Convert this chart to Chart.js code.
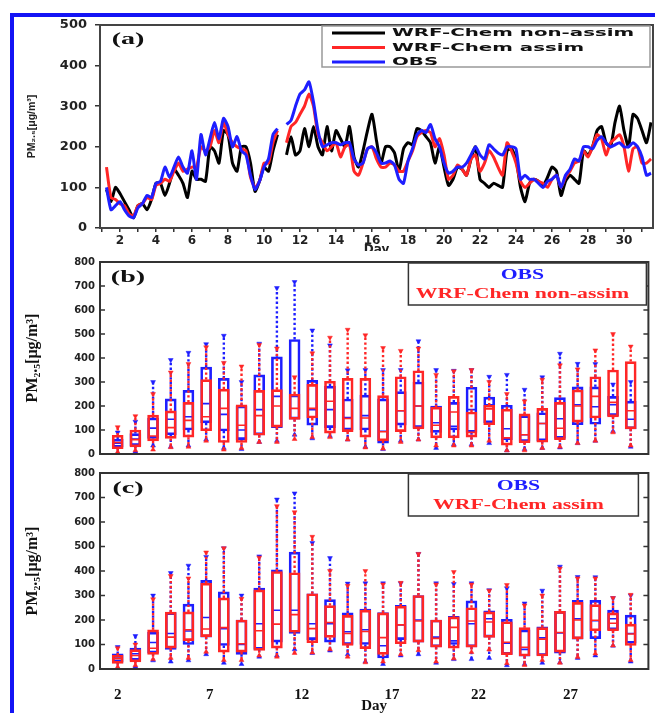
<!DOCTYPE html>
<html><head><meta charset="utf-8">
<script src="https://cdn.jsdelivr.net/npm/chart.js@4.4.1/dist/chart.umd.min.js"></script>
<style>
html,body{margin:0;padding:0;background:#fff;}
body{width:655px;height:713px;position:relative;overflow:hidden;}
.pane{position:absolute;left:0;width:655px;}
#frame{position:absolute;left:10px;top:13px;width:660px;height:720px;border-top:4px solid #1414f5;border-left:4px solid #1414f5;box-sizing:border-box;pointer-events:none;z-index:5;}
</style></head><body>
<div class="pane" style="top:0;height:251px"><canvas id="ca"></canvas></div>
<div class="pane" style="top:251px;height:214px"><canvas id="cb"></canvas></div>
<div class="pane" style="top:462px;height:251px"><canvas id="cc"></canvas></div>
<div id="frame"></div>
<script>
// ---------- Panel (a): 6-hourly series, day 1.25 ... 31.5 ----------
const obsA = [100,45,55,65, 45,30,25,50, 60,80,75,110, 115,150,125,150, 175,150,135,190,
  120,230,180,220, 260,220,270,250, 200,225,190,180, 130,95,115,150, 170,230,245,null,
  255,265,300,330, 340,360,310,240, 200,205,210,210, 205,210,210,170, 155,160,195,200,
  185,160,160,165, 155,120,110,165, 195,230,240,235, 255,220,200,160, 135,140,150,150,
  160,180,200,180, 170,205,195,185, 180,200,200,195, 120,130,120,120, 110,100,115,120,
  130,100,130,145, 170,165,200,200, 195,215,225,210, 200,205,210,200, 200,210,200,175, 130,135];
const assimA = [150,75,70,60, 55,35,30,55, 60,75,70,105, 110,120,115,140, 160,140,145,150,
  150,200,190,200, 240,210,260,230, 210,200,195,190, 125,100,115,160, 160,210,240,null,
  210,250,260,280, 300,330,300,230, 210,190,200,210, 175,200,205,140, 130,160,195,200,
  170,150,150,160, 155,140,140,165, 190,225,235,240, 235,200,220,180, 120,130,155,145,
  130,170,180,140, 160,190,175,150, 130,210,190,160, 115,100,110,120, 115,110,100,120,
  130,100,125,140, 160,165,190,175, 200,230,220,180, 210,220,230,200, 140,195,200,160, 160,170];
const nonA = [95,65,100,85, 65,45,25,55, 60,45,70,110, 110,80,110,145, 130,110,75,140,
  120,120,115,200, 190,160,240,230, 160,140,200,200, 160,90,115,150, 140,190,230,null,
  180,225,180,190, 245,200,250,200, 180,250,190,240, 220,200,250,175, 150,190,240,280,
  215,160,200,200, 185,140,195,210, 205,245,240,225, 210,160,200,150, 105,120,150,145,
  130,170,200,120, 110,100,110,105, 100,190,195,170, 100,65,110,120, 115,105,125,150,
  140,80,115,130, 120,110,190,180, 200,240,250,210, 200,260,300,240, 200,280,270,240, 210,260];
const timeDays = Array.from({length: obsA.length}, (_, i) => 1.25 + i * 0.25);
const tickDaysA = Array.from({length: 31}, (_, i) => i + 1);
const seriesNamesA = ['OBS', 'WRF-Chem assim', 'WRF-Chem non-assim'];

// ---------- Panels (b),(c): daily box statistics (min, q1, median, q3, max) ----------
const boxDays = Array.from({length: 30}, (_, i) => i + 1);
const obsMin = [5,10,35,30,35,60,25,20,50,55,80,65,75,60,30,20,55,60,25,40,40,45,15,20,25,27,45,55,95,30];
const obsQ1  = [28,35,65,80,100,130,96,60,80,110,145,120,110,100,100,45,120,110,90,100,90,130,60,52,55,65,122,124,160,105];
const obsMed = [45,62,108,145,155,210,165,100,185,240,240,185,185,152,160,95,180,200,130,115,185,205,105,80,127,147,205,197,205,145];
const obsQ3  = [62,85,150,230,265,362,315,200,330,405,477,307,283,229,245,230,260,300,200,215,278,237,203,160,172,235,280,280,240,220];
const obsMax = [90,135,300,392,422,458,493,300,460,692,717,515,453,349,350,350,350,470,350,347,350,322,330,268,320,418,376,375,290,300];

const nonMin = [8,15,18,28,30,55,18,25,50,50,62,70,70,60,27,22,50,60,35,35,35,55,15,15,25,30,45,55,90,35];
const nonQ1  = [22,30,55,65,70,97,48,48,78,112,144,150,87,93,70,55,93,105,67,67,70,122,37,47,49,60,133,150,155,105];
const nonMed = [48,60,75,110,140,155,190,120,160,200,190,190,220,148,150,93,180,200,120,175,90,188,67,80,127,107,200,240,215,180];
const nonQ3  = [78,100,162,180,215,310,270,205,265,268,250,290,303,315,315,243,322,347,195,240,175,203,187,167,190,215,267,322,350,385];
const nonMax = [112,158,250,340,375,445,380,365,455,440,320,420,485,518,495,442,430,440,330,345,350,300,250,220,310,370,353,432,500,448];

const asmMin = [8,15,40,45,45,70,36,36,55,50,65,67,80,50,27,30,60,76,30,43,69,79,23,16,36,25,49,63,96,36];
const asmQ1  = [23,29,60,85,116,132,69,69,76,85,150,107,129,96,83,60,103,110,89,85,89,129,59,53,53,69,123,156,156,96];
const asmMed = [42,55,85,130,160,163,169,103,156,183,222,165,190,145,153,128,180,196,125,170,196,192,109,89,122,149,200,199,187,143];
const asmQ3  = [56,79,160,232,233,350,290,200,323,398,393,307,259,219,240,229,256,300,200,213,250,233,193,169,169,235,272,263,229,183];
const asmMax = [85,100,285,380,370,476,493,287,455,665,640,540,400,340,400,345,352,470,345,396,345,320,343,260,300,410,370,370,290,303];

const tickPosC = [1, 6.2, 11.4, 16.5, 21.4, 26.6];
const tickLabelsC = ['2', '7', '12', '17', '22', '27'];
const panelLabels = ['(a)', '(b)', '(c)'];
const legendB = ['OBS', 'WRF-Chem non-assim'];
const legendC = ['OBS', 'WRF-Chem assim'];

// ---------- styles ----------
const BLUE = '#1e1eff', RED = '#ff2626', BLACK = '#000000';
const sansB = (s) => ({family: 'DejaVu Sans', weight: 'bold', size: s});
const serifB = (s) => ({family: 'Liberation Serif', weight: 'bold', size: s});
const yTitle = 'PM\u2082.\u2085[\u03bcg/m\u00b3]';

const framePlugin = {
  id: 'frame',
  afterDatasetsDraw(chart, args, o) {
    const {ctx, chartArea: a} = chart;
    ctx.save();
    ctx.strokeStyle = o.color; ctx.lineWidth = o.width;
    ctx.strokeRect(a.left, a.top, a.right - a.left, a.bottom - a.top);
    if (o.inTicks) {
      const y = chart.scales.y;
      ctx.lineWidth = 1.5;
      y.ticks.forEach(t => {
        const py = y.getPixelForValue(t.value);
        ctx.beginPath();
        ctx.moveTo(a.left, py); ctx.lineTo(a.left + 5, py);
        ctx.moveTo(a.right, py); ctx.lineTo(a.right - 5, py);
        ctx.stroke();
      });
    }
    ctx.restore();
  }
};
const panelLabelPlugin = {
  id: 'panelLabel',
  afterDraw(chart, args, o) {
    const {ctx, chartArea: a} = chart;
    ctx.save();
    ctx.font = 'bold 17px "Liberation Serif"';
    ctx.fillStyle = '#111'; ctx.textAlign = 'center'; ctx.textBaseline = 'middle';
    ctx.translate(a.left + 28, a.top + o.dy); ctx.scale(1.65, 1);
    ctx.fillText(o.text, 0, 0);
    ctx.restore();
  }
};
const legendAPlugin = {
  id: 'legendA',
  afterDraw(chart) {
    const {ctx, chartArea: a} = chart;
    const w = 328, h = 41, x0 = a.right - w - 3, y0 = a.top + 1;
    ctx.save();
    ctx.fillStyle = '#fff'; ctx.fillRect(x0, y0, w, h);
    ctx.strokeStyle = '#999'; ctx.lineWidth = 1.5; ctx.strokeRect(x0, y0, w, h);
    const items = chart.data.datasets.slice().reverse();
    ctx.font = 'bold 11px "DejaVu Sans"'; ctx.textBaseline = 'middle'; ctx.textAlign = 'left';
    items.forEach((ds, i) => {
      const y = y0 + 7 + i * 14.5;
      ctx.strokeStyle = ds.borderColor; ctx.lineWidth = 3;
      ctx.beginPath(); ctx.moveTo(x0 + 10, y); ctx.lineTo(x0 + 63, y); ctx.stroke();
      ctx.save(); ctx.translate(x0 + 70, y + 0.5); ctx.scale(1.8, 1);
      ctx.fillStyle = '#111'; ctx.fillText(ds.label, 0, 0); ctx.restore();
    });
    ctx.restore();
  }
};
const boxLegendPlugin = {
  id: 'boxLegend',
  afterDraw(chart, args, o) {
    const {ctx, chartArea: a} = chart;
    const x0 = a.right - o.w - o.gap, y0 = a.top + 1;
    ctx.save();
    ctx.fillStyle = '#fff'; ctx.fillRect(x0, y0, o.w, o.h);
    ctx.strokeStyle = '#333'; ctx.lineWidth = 1.5; ctx.strokeRect(x0, y0, o.w, o.h);
    ctx.font = 'bold 15px "Liberation Serif"'; ctx.textAlign = 'center'; ctx.textBaseline = 'middle';
    o.labels.forEach((t, i) => {
      ctx.save(); ctx.translate(x0 + o.w / 2 - 5, y0 + 12 + i * 19); ctx.scale(1.45, 1);
      ctx.fillStyle = o.colors[i]; ctx.fillText(t, 0, 0); ctx.restore();
    });
    ctx.restore();
  }
};

// ---------- chart (a) ----------
const lineDs = (label, vals, color, order) => ({
  label, data: timeDays.map((d, i) => ({x: d, y: vals[i]})),
  borderColor: color, borderWidth: 3, pointRadius: 0, tension: 0.2, spanGaps: false, order
});
new Chart(document.getElementById('ca'), {
  type: 'line',
  data: {datasets: [
    lineDs(seriesNamesA[0], obsA, BLUE, 0),
    lineDs(seriesNamesA[1], assimA, RED, 1),
    lineDs(seriesNamesA[2], nonA, BLACK, 2)
  ]},
  options: {
    responsive: true, maintainAspectRatio: false, animation: false, events: [],
    layout: {padding: {top: 25, right: 2, left: 0, bottom: 0}},
    plugins: {legend: {display: false}, tooltip: {enabled: false},
      frame: {color: '#444', width: 2, inTicks: false},
      panelLabel: {text: panelLabels[0], dy: 15}},
    scales: {
      x: {type: 'linear', min: 0.89, max: 31.61,
        afterBuildTicks: s => { s.ticks = tickDaysA.map(v => ({value: v})); },
        ticks: {callback: v => (v % 2 === 0 ? String(v) : ''), font: sansB(12), color: '#222', padding: 2, maxRotation: 0, autoSkip: false},
        grid: {drawOnChartArea: false, drawTicks: true, tickLength: 4, color: '#333', lineWidth: 1.5},
        border: {display: true, color: '#444', width: 2},
        title: {display: true, text: 'Day', font: sansB(12), color: '#222', padding: {top: 0, bottom: -6}},
        afterFit: s => { s.height = 23; }},
      y: {min: 0, max: 500,
        ticks: {stepSize: 100, font: sansB(13), color: '#222', padding: 8},
        grid: {drawOnChartArea: false, drawTicks: true, tickLength: 5, color: '#333', lineWidth: 1.5},
        border: {display: true, color: '#444', width: 2},
        title: {display: true, text: yTitle, font: {family: 'Liberation Sans', weight: 'bold', size: 10.5}, color: '#222', padding: {top: 26, bottom: 0}},
        afterFit: s => { s.width = 100; }}
    }
  },
  plugins: [framePlugin, legendAPlugin, panelLabelPlugin]
});

// ---------- charts (b),(c) ----------
function boxSets(st, color, bw, base, name) {
  const [mn, q1, md, q3, mx] = st;
  return [
    {type: 'bar', label: name, data: boxDays.map((d, i) => ({x: d, y: [q1[i], q3[i]]})),
      backgroundColor: 'rgba(0,0,0,0)', borderColor: color, borderWidth: bw, borderSkipped: false,
      barThickness: 11, grouped: false, order: base + 1},
    {type: 'line', label: name + ' whisker', data: boxDays.flatMap((d, i) => [
        {x: d, y: q3[i]}, {x: d, y: mx[i]}, {x: d, y: null},
        {x: d, y: q1[i]}, {x: d, y: mn[i]}, {x: d, y: null}]),
      borderColor: color, borderWidth: 2.4, borderDash: [2.4, 2.4], pointRadius: 0,
      spanGaps: false, tension: 0, order: base + 2},
    {type: 'scatter', label: name + ' median', data: boxDays.map((d, i) => ({x: d, y: md[i]})),
      pointStyle: 'line', pointRadius: 5, pointBorderColor: color, pointBorderWidth: 1.6, order: base},
    {type: 'scatter', label: name + ' max', data: boxDays.map((d, i) => ({x: d, y: mx[i]})),
      pointStyle: 'triangle', pointRotation: 180, pointRadius: 2.8,
      pointBackgroundColor: color, pointBorderColor: color, pointBorderWidth: 0.5, order: base},
    {type: 'scatter', label: name + ' min', data: boxDays.map((d, i) => ({x: d, y: mn[i]})),
      pointStyle: 'triangle', pointRadius: 2.8,
      pointBackgroundColor: color, pointBorderColor: color, pointBorderWidth: 0.5, order: base}
  ];
}
function boxChart(id, modelStats, modelName, legendLabels, legendOpts, label, showX) {
  const padTop = showX ? 7 : 8;
  return new Chart(document.getElementById(id), {
    type: 'bar',
    data: {datasets: [
      ...boxSets(modelStats, RED, 2, 0, modelName),
      ...boxSets([obsMin, obsQ1, obsMed, obsQ3, obsMax], BLUE, 2, 10, 'OBS')
    ]},
    options: {
      responsive: true, maintainAspectRatio: false, animation: false, events: [],
      layout: {padding: {top: padTop, right: 5, left: 0, bottom: 0}},
      plugins: {legend: {display: false}, tooltip: {enabled: false},
        frame: {color: '#333', width: 2, inTicks: true},
        panelLabel: {text: label, dy: 16},
        boxLegend: Object.assign({labels: legendLabels, colors: [BLUE, RED]}, legendOpts)},
      scales: {
        x: {type: 'linear', min: 0, max: 31, offset: false,
          afterBuildTicks: s => { s.ticks = tickPosC.map(v => ({value: v})); },
          ticks: {display: showX, callback: (v, i) => tickLabelsC[i], font: serifB(15), color: '#111', padding: 9, maxRotation: 0, autoSkip: false},
          grid: {display: false, offset: false},
          border: {display: true, color: '#333', width: 2},
          title: {display: showX, text: 'Day', font: serifB(15), color: '#111', padding: {top: 0, bottom: -2}},
          afterFit: s => { s.height = showX ? 44 : 7; }},
        y: {min: 0, max: 800,
          ticks: {stepSize: 100, font: sansB(10), color: '#222', padding: 5},
          grid: {drawOnChartArea: false, drawTicks: false},
          border: {display: true, color: '#333', width: 2},
          title: {display: true, text: yTitle, font: serifB(16), color: '#111', padding: {top: 23, bottom: 0}},
          afterFit: s => { s.width = 100; }}
      }
    },
    plugins: [framePlugin, boxLegendPlugin, panelLabelPlugin]
  });
}
boxChart('cb', [nonMin, nonQ1, nonMed, nonQ3, nonMax], 'WRF-Chem non-assim', legendB, {w: 238, h: 42, gap: 2}, panelLabels[1], false);
boxChart('cc', [asmMin, asmQ1, asmMed, asmQ3, asmMax], 'WRF-Chem assim', legendC, {w: 230, h: 42, gap: 10}, panelLabels[2], true);
</script>
</body></html>
